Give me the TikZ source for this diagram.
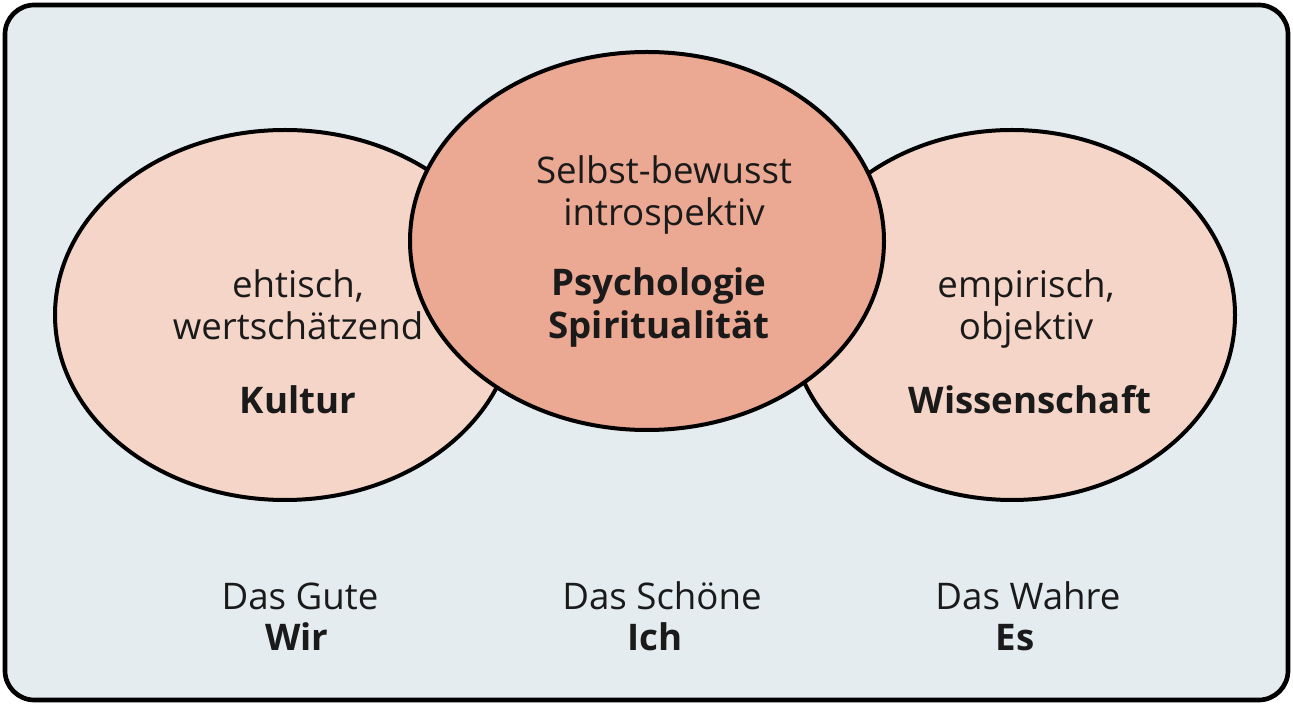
\documentclass[tikz,border=0pt]{standalone}
\usepackage{fontspec}
\setmainfont{Open Sans}
\definecolor{bg}{HTML}{E4ECF0}
\definecolor{side}{HTML}{F5D5C8}
\definecolor{mid}{HTML}{EBA892}
\definecolor{ink}{HTML}{1A1A1A}
\begin{document}
\begin{tikzpicture}[x=0.75pt,y=-0.75pt,
  lbl/.style={font=\fontsize{27.5}{33}\selectfont,text=ink,inner sep=0pt,anchor=base},
  blbl/.style={lbl,font=\fontsize{27.5}{33}\selectfont\bfseries},
  circ/.style={draw=black,line width=3pt}]
\useasboundingbox (0,0) rectangle (1293,705);
\draw[fill=bg,line width=3.5pt,rounded corners=22pt] (5,5) rectangle (1288,700);
\draw[circ,fill=side] (285,315) ellipse [x radius=230,y radius=185];
\draw[circ,fill=side] (1012,315) ellipse [x radius=223,y radius=185];
\draw[circ,fill=mid] (647,241) ellipse [x radius=237,y radius=189];
\node[lbl] (a1) at (298,298) {ehtisch,};
\node[lbl] (a2) at (298,340) {wertschätzend};
\node[blbl] (a3) at (298,414) {Kultur};
\node[lbl] (b1) at (664,184) {Selbst-bewusst};
\node[lbl] (b2) at (664,226) {introspektiv};
\node[blbl] (b3) at (659,296) {Psychologie};
\node[blbl] (b4) at (659,339) {Spiritualität};
\node[lbl] (c1) at (1026,298) {empirisch,};
\node[lbl] (c2) at (1026,340) {objektiv};
\node[blbl] (c3) at (1030,414) {Wissenschaft};
\node[lbl] (d1) at (300,610) {Das Gute};
\node[blbl] (d2) at (297,651) {Wir};
\node[lbl] (e1) at (662,610) {Das Schöne};
\node[blbl] (e2) at (655,651) {Ich};
\node[lbl] (f1) at (1028,610) {Das Wahre};
\node[blbl] (f2) at (1015,651) {Es};
\end{tikzpicture}
\end{document}
